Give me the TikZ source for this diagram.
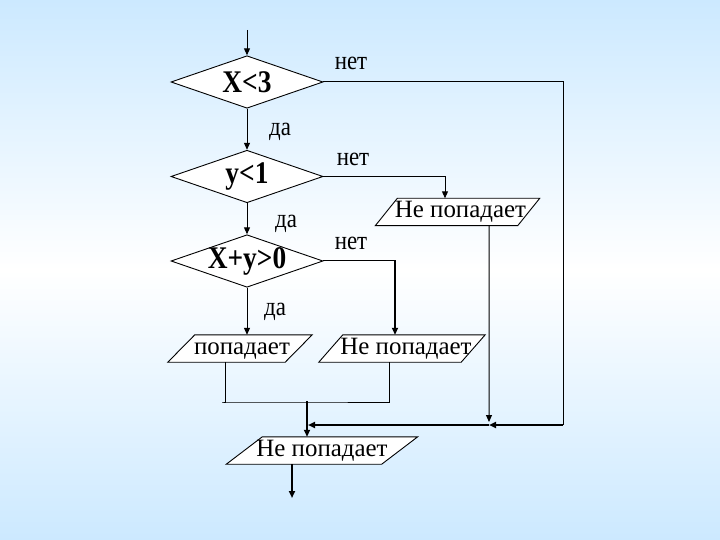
\documentclass[tikz,border=0pt]{standalone}
\usepackage{fontspec}
\setmainfont{Liberation Serif}
\usetikzlibrary{shapes.geometric,arrows.meta}
\definecolor{bgblue}{RGB}{204,233,255}
\pgfdeclarelayer{bg}
\pgfsetlayers{bg,main}
\newcommand\pshape[2]{%
  \begin{pgfonlayer}{bg}
    \draw[line width=0.9bp,fill=white]
      ([xshift=#2/2]#1.north west) -- ([xshift=#2/2]#1.north east)
      -- ([xshift=-#2/2]#1.south east) -- ([xshift=-#2/2]#1.south west) -- cycle;
  \end{pgfonlayer}}
\newcommand\tall[1]{\scalebox{1}[1.15]{#1}}
\begin{document}
\begin{tikzpicture}[x=1bp,y=-1bp,
  ln/.style={line width=1bp},
  fat/.style={line width=2.6bp},
  tip/.style={-{Triangle[length=7bp,width=6bp]}},
  dia/.style={shape=diamond,draw,fill=white,line width=0.9bp,minimum width=152bp,
    minimum height=52.5bp,inner sep=0pt},
  dtext/.style={inner sep=0pt,font=\fontsize{27.5}{27.5}\selectfont\bfseries},
  pbox/.style={inner sep=0pt,minimum height=27bp,text height=17bp,text depth=5bp,
    font=\fontsize{25}{25}\selectfont},
  lab/.style={inner sep=0pt,font=\fontsize{23}{23}\selectfont}]
\begin{pgfonlayer}{bg}
  \shade[top color=bgblue,bottom color=bgblue,middle color=white] (0,0) rectangle (720,540);
\end{pgfonlayer}
\useasboundingbox (0,0) rectangle (720,540);

% decisions
\node[dia,label={[dtext,name=D1t]center:\tall{X<3}}] (D1) at (247,82) {};
\node[dia,label={[dtext,name=D2t]center:\tall{y<1}}] (D2) at (247,176.5) {};
\node[dia,label={[dtext,name=D3t]center:\tall{X+y>0}}] (D3) at (247,261) {};

% outputs
\node[pbox,minimum width=142bp] (P1) at (457.5,212) {\hspace{6bp}Не попадает};
\pshape{P1}{22bp}
\node[pbox,minimum width=117bp] (P2) at (240,348.5) {\hspace{4bp}попадает};
\pshape{P2}{27bp}
\node[pbox,minimum width=142bp] (P3) at (402,348.5) {\hspace{8bp}Не попадает};
\pshape{P3}{24bp}
\node[pbox,minimum width=155bp] (P4) at (322,450.5) {Не попадает};
\pshape{P4}{36bp}

% labels
\node[lab] (n1) at (351,63) {\tall{нет}};
\node[lab] (y1) at (280,131.5) {\tall{да}};
\node[lab] (n2) at (353,159) {\tall{нет}};
\node[lab] (y2) at (286,224) {\tall{да}};
\node[lab] (n3) at (351,243.5) {\tall{нет}};
\node[lab] (y3) at (275,311.5) {\tall{да}};

% coordinates
\coordinate (start) at (247,30);
\coordinate (m0) at (563,425);
\coordinate (m1) at (489,425);
\coordinate (m1t) at (489,422);
\coordinate (m2) at (308,425);
\coordinate (j) at (307,402);
\coordinate (k3) at (395,261);
\coordinate (end) at (292,498);

% connectors
\draw[ln,tip] (start) -- (D1.north);
\draw[ln,tip] (D1.south) -- (D2.north);
\draw[ln,tip] (D2.south) -- (D3.north);
\draw[ln,tip] (D3.south) -- (D3.south |- P2.north);
\draw[ln] (D1.east) -| (m0);
\draw[ln,tip] (D2.east) -| ([xshift=-12.5bp]P1.north);
\draw[ln,tip] ([xshift=31.5bp]P1.south) -- (m1t);
\draw[ln] (D3.east) -- ([xshift=0.5bp]k3);
\draw[fat,tip] (k3) -- (k3 |- P3.north);
\draw[ln] ([xshift=-15bp]P2.south) |- ([xshift=-85bp]j) -- (j) -| ([xshift=-13bp]P3.south);
\draw[fat,tip] (m0) -- (m1);
\draw[fat,tip] (m1) -- (m2);
\draw[fat,tip] ([yshift=1bp]j) -- (j |- P4.north);
\draw[fat,tip] (P4.south -| end) -- (end);
\end{tikzpicture}
\end{document}
